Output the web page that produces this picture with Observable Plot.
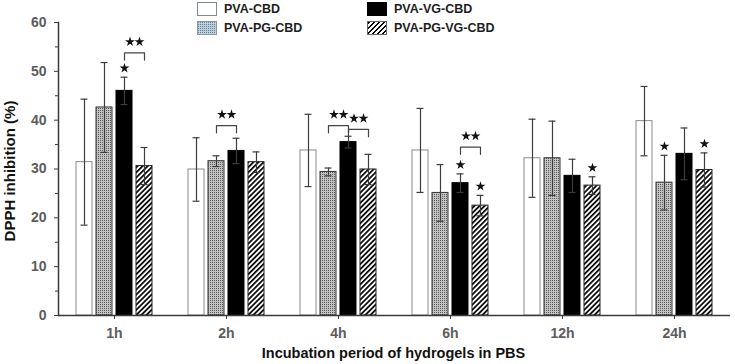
<!DOCTYPE html>
<html><head><meta charset="utf-8">
<script src="https://cdn.jsdelivr.net/npm/d3@7"></script>
<script src="https://cdn.jsdelivr.net/npm/@observablehq/plot@0.6"></script>
<style>
body{margin:0;background:#fff;font-family:"Liberation Sans",Arial,sans-serif;}
#wrap{position:relative;width:735px;height:364px;overflow:hidden;}
.lg{position:absolute;display:flex;align-items:center;font-weight:bold;font-size:12.5px;color:#1e1e1e;white-space:nowrap;}
.sw{width:18px;height:12px;border:1px solid #7d8a90;margin-right:7px;box-sizing:content-box;}
.xt{position:absolute;left:0;width:735px;top:345px;text-align:center;padding-left:52px;box-sizing:border-box;font-weight:bold;font-size:14.5px;color:#111;}
.yt{position:absolute;left:9px;top:171px;transform:translate(-50%,-50%) rotate(-90deg);font-weight:bold;font-size:15px;color:#111;white-space:nowrap;}
</style></head><body><div id="wrap"></div>
<script>
// ---- data ----
const times = ["1h", "2h", "4h", "6h", "12h", "24h"];
const series = ["PVA-CBD", "PVA-PG-CBD", "PVA-VG-CBD", "PVA-PG-VG-CBD"];
const pvaCbd        = [31.4, 29.9, 33.8, 33.8, 32.2, 39.8];
const pvaCbdErr     = [12.9, 6.5, 7.4, 8.6, 8.0, 7.1];
const pvaPgCbd      = [42.6, 31.6, 29.4, 25.1, 32.2, 27.2];
const pvaPgCbdErr   = [9.2, 1.1, 0.8, 5.8, 7.6, 5.6];
const pvaVgCbd      = [46.0, 33.7, 35.5, 27.1, 28.6, 33.1];
const pvaVgCbdErr   = [2.8, 2.6, 1.2, 1.9, 3.4, 5.3];
const pvaPgVgCbd    = [30.6, 31.4, 29.9, 22.5, 26.6, 29.8];
const pvaPgVgCbdErr = [3.8, 2.1, 3.1, 2.1, 1.8, 3.5];
const yTicks = [0, 10, 20, 30, 40, 50, 60];
const yMinorTicks = [5, 15, 25, 35, 45, 55];
// single significance stars (time, series)
const starTimes  = ["1h", "6h", "6h", "12h", "24h", "24h"];
const starSeries = ["PVA-VG-CBD", "PVA-VG-CBD", "PVA-PG-VG-CBD", "PVA-PG-VG-CBD", "PVA-PG-CBD", "PVA-PG-VG-CBD"];
// double-star brackets
const brTimes = ["1h", "2h", "4h", "4h", "6h"];
const brFrom  = ["PVA-VG-CBD", "PVA-PG-CBD", "PVA-PG-CBD", "PVA-VG-CBD", "PVA-VG-CBD"];
const brTo    = ["PVA-PG-VG-CBD", "PVA-VG-CBD", "PVA-VG-CBD", "PVA-PG-VG-CBD", "PVA-PG-VG-CBD"];
const brTop   = [53.8, 38.9, 38.9, 38.1, 34.5];
const brLeg = 1.5;

// ---- build tables ----
const means = [pvaCbd, pvaPgCbd, pvaVgCbd, pvaPgVgCbd];
const errs = [pvaCbdErr, pvaPgCbdErr, pvaVgCbdErr, pvaPgVgCbdErr];
const rows = [];
times.forEach((t, i) => series.forEach((s, j) => rows.push({time: t, series: s, value: means[j][i], err: errs[j][i]})));
const find = (t, s) => rows.find(d => d.time === t && d.series === s);
const stars = starTimes.map((t, i) => find(t, starSeries[i]));
const brPts = [];
brTimes.forEach((t, i) => {
  brPts.push({id: i, time: t, series: brFrom[i], y: brTop[i] - brLeg});
  brPts.push({id: i, time: t, series: brFrom[i], y: brTop[i]});
  brPts.push({id: i, time: t, series: brTo[i], y: brTop[i]});
  brPts.push({id: i, time: t, series: brTo[i], y: brTop[i] - brLeg});
});
const brStars = brTimes.map((t, i) => ({time: t, series: brFrom[i], y: brTop[i]}));

const fills = ["white", "url(#dots)", "black", "url(#hatch)"];
const strokes = ["#8a8a8a", "#333", "#000", "#222"];
const font = "'Liberation Sans', Arial, sans-serif";

const chart = Plot.plot({
  width: 735, height: 364,
  marginLeft: 56, marginRight: 4, marginTop: 22, marginBottom: 49,
  style: {fontFamily: font, fontWeight: "bold", fontSize: "13.5px", background: "white", overflow: "visible"},
  fx: {domain: times, padding: 0, label: null},
  x: {domain: series, paddingInner: 0.22, paddingOuter: 0.86, axis: null, label: null},
  y: {domain: [0, 60], label: null},
  marks: [
    ...series.map((s, j) => Plot.barY(rows.filter(d => d.series === s), {
      fx: "time", x: "series", y: "value", fill: fills[j], stroke: strokes[j], strokeWidth: 1
    })),
    Plot.ruleX(rows, {fx: "time", x: "series", y1: d => d.value - d.err, y2: d => d.value + d.err, stroke: "#3c3c3c", strokeWidth: 1.2}),
    Plot.tickY(rows, {fx: "time", x: "series", y: d => d.value + d.err, stroke: "#3c3c3c", strokeWidth: 1.2, insetLeft: 4.5, insetRight: 4.5}),
    Plot.tickY(rows, {fx: "time", x: "series", y: d => d.value - d.err, stroke: "#3c3c3c", strokeWidth: 1.2, insetLeft: 4.5, insetRight: 4.5}),
    Plot.line(brPts, {fx: "time", x: "series", y: "y", z: "id", stroke: "#444", strokeWidth: 1.2, curve: "linear"}),
    Plot.dot(stars, {fx: "time", x: "series", y: d => d.value + d.err, dy: -9, symbol: "star", r: 3.1, fill: "#111", stroke: "none"}),
    Plot.dot(brStars, {fx: "time", x: "series", y: "y", dx: 5.5, dy: -11, symbol: "star", r: 3.1, fill: "#111", stroke: "none"}),
    Plot.dot(brStars, {fx: "time", x: "series", y: "y", dx: 15, dy: -11, symbol: "star", r: 3.1, fill: "#111", stroke: "none"}),
    Plot.ruleY([0], {stroke: "#3a3a3a", strokeWidth: 1.5}),
    Plot.frame({anchor: "left", facetAnchor: "left", stroke: "#3a3a3a", strokeWidth: 1.5}),
    Plot.axisY({ticks: yTicks, tickSize: 4, tickPadding: 8, stroke: "#3a3a3a", fill: "#5c5c5c", fontSize: 14, tickFormat: d => String(d), label: null}),
    Plot.axisY({ticks: yMinorTicks, tickSize: 3, text: null, stroke: "#3a3a3a", label: null}),
    Plot.axisFx({anchor: "bottom", tickSize: 4, tickPadding: 9, stroke: "#3a3a3a", fill: "#5c5c5c", fontSize: 14, label: null})
  ]
});

// patterns
const ns = "http://www.w3.org/2000/svg";
const defs = document.createElementNS(ns, "defs");
defs.innerHTML = `
  <pattern id="dots" width="2" height="2" patternUnits="userSpaceOnUse">
    <rect width="2" height="2" fill="#c4c4c4"/>
    <rect width="1" height="1" fill="#555555"/>
  </pattern>
  <pattern id="hatch" width="3.6" height="3.6" patternUnits="userSpaceOnUse" patternTransform="rotate(45)">
    <rect width="3.6" height="3.6" fill="white"/>
    <rect width="1.7" height="3.6" fill="black"/>
  </pattern>`;
chart.insertBefore(defs, chart.firstChild);

const wrap = document.getElementById("wrap");
wrap.appendChild(chart);

// legend + titles (HTML overlay)
const legendPos = [[197, 2], [197, 21], [367, 2], [367, 21]];
const dotSvg = "data:image/svg+xml," + encodeURIComponent(
  '<svg xmlns="http://www.w3.org/2000/svg" width="2" height="2"><rect width="2" height="2" fill="#bcd2e4"/><rect width="1" height="1" fill="#6a7c8c"/></svg>');
const legendBg = [
  "#ffffff",
  `url("${dotSvg}") repeat`,
  "#000000",
  "repeating-linear-gradient(135deg, #000 0 1.6px, #fff 1.6px 3.6px)"
];
const legendBorder = ["#7d8a90", "#8a99a4", "#000", "#666"];
series.forEach((s, j) => {
  const el = document.createElement("div");
  el.className = "lg";
  el.style.left = legendPos[j][0] + "px";
  el.style.top = legendPos[j][1] + "px";
  const sw = document.createElement("div");
  sw.className = "sw";
  sw.style.background = legendBg[j];
  sw.style.borderColor = legendBorder[j];
  el.appendChild(sw);
  const tx = document.createElement("span");
  tx.textContent = s;
  el.appendChild(tx);
  wrap.appendChild(el);
});
const xt = document.createElement("div");
xt.className = "xt";
xt.textContent = "Incubation period of hydrogels in PBS";
wrap.appendChild(xt);
const yt = document.createElement("div");
yt.className = "yt";
yt.textContent = "DPPH inhibition (%)";
wrap.appendChild(yt);
</script>
</body></html>
